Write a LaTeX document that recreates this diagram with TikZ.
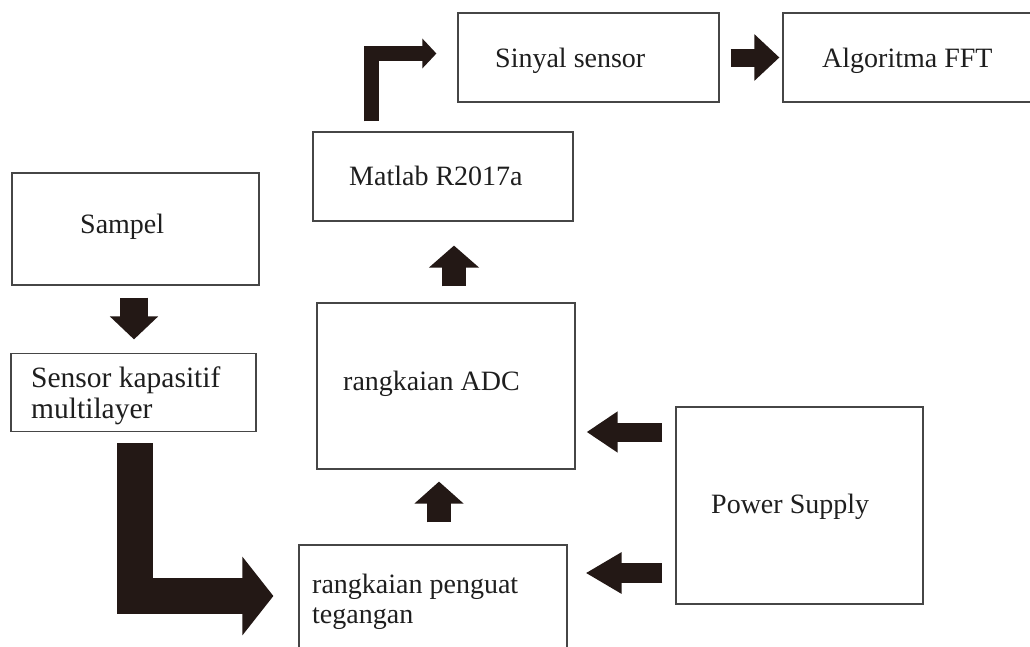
\documentclass[tikz,border=0pt]{standalone}
\usepackage{fontspec}
\setmainfont{Liberation Serif}
\usetikzlibrary{arrows.meta,calc}
\definecolor{arr}{RGB}{35,24,21}
\definecolor{boxline}{RGB}{70,70,70}
\definecolor{txt}{RGB}{30,30,30}
\tikzset{
  box/.style={draw=boxline,line width=1.2pt,rectangle,inner sep=0pt},
  lbl/.style={anchor=base west,inner sep=0pt,text=txt,font=\fontsize{28}{30}\selectfont},
  blk/.style args={#1/#2/#3}{draw=arr,line width=#1,line join=miter,
     -{Triangle[width=#2,length=#3,fill=arr,color=arr]}}
}
\begin{document}
\begin{tikzpicture}[x=1pt,y=-1pt]
\clip (0,0) rectangle (1030,646);
\fill[white] (0,0) rectangle (1030,646);
% boxes
\node[box,minimum width=261pt,minimum height=89pt] (sinyal) at (588.5,57.5) {};
\node[box,minimum width=260pt,minimum height=89pt] (fft) at (913,57.5) {};
\node[box,minimum width=260pt,minimum height=89pt] (matlab) at (443,176.5) {};
\node[box,minimum width=247pt,minimum height=112pt] (sampel) at (135.5,229) {};
\node[box,minimum width=245pt,minimum height=78pt] (sensor) at (133.5,392.5) {};
\node[box,minimum width=258pt,minimum height=166pt] (adc) at (446,386) {};
\node[box,minimum width=247pt,minimum height=197pt] (power) at (799.5,505.5) {};
\node[box,minimum width=268pt,minimum height=110pt] (penguat) at (433,600) {};
% labels
\node[lbl] (sinyalt) at (495,67) {Sinyal sensor};
\node[lbl] (fftt) at (822,67) {Algoritma FFT};
\node[lbl] (matlabt) at (349,185) {Matlab R2017a};
\node[lbl] (sampelt) at (80,233) {Sampel};
\node[lbl,font=\fontsize{29.5}{30}\selectfont] (sensort1) at (31,387) {Sensor kapasitif};
\node[lbl,font=\fontsize{29.5}{30}\selectfont] (sensort2) at (31,418) {multilayer};
\node[lbl] (adct) at (343,390) {rangkaian ADC};
\node[lbl] (powert) at (711,513) {Power Supply};
\node[lbl] (penguatt1) at (312,593) {rangkaian penguat};
\node[lbl] (penguatt2) at (312,623) {tegangan};
% block arrows
\draw[blk=28pt/47pt/23pt] ($(sampel.south)+(-1.5,12)$) -- ($(sensor.north)+(0.5,-13.5)$);
\draw[blk=36pt/77pt/31pt] ($(sensor.south)+(1.5,11)$) |- ($(penguat.west)+(-25,-4)$);
\draw[blk=24pt/48pt/22pt] ($(penguat.north)+(6,-22)$) -- ($(adc.south)+(-7,12)$);
\draw[blk=24pt/49pt/22pt] ($(adc.north)+(8,-16)$) -- ($(matlab.south)+(11,24)$);
\draw[blk=19pt/39pt/31pt] ($(power.west)+(-13,-73.5)$) -- ($(adc.east)+(11,46)$);
\draw[blk=20pt/39pt/36pt] ($(power.west)+(-13,67.5)$) -- ($(penguat.east)+(18,-27)$);
\draw[blk=15pt/29pt/14pt] ($(matlab.north)+(-71.5,-10)$) |- ($(sinyal.west)+(-21,-4)$);
\draw[blk=18pt/45pt/25pt] ($(sinyal.east)+(11,0)$) -- ($(fft.west)+(-3,0)$);
\end{tikzpicture}
\end{document}
